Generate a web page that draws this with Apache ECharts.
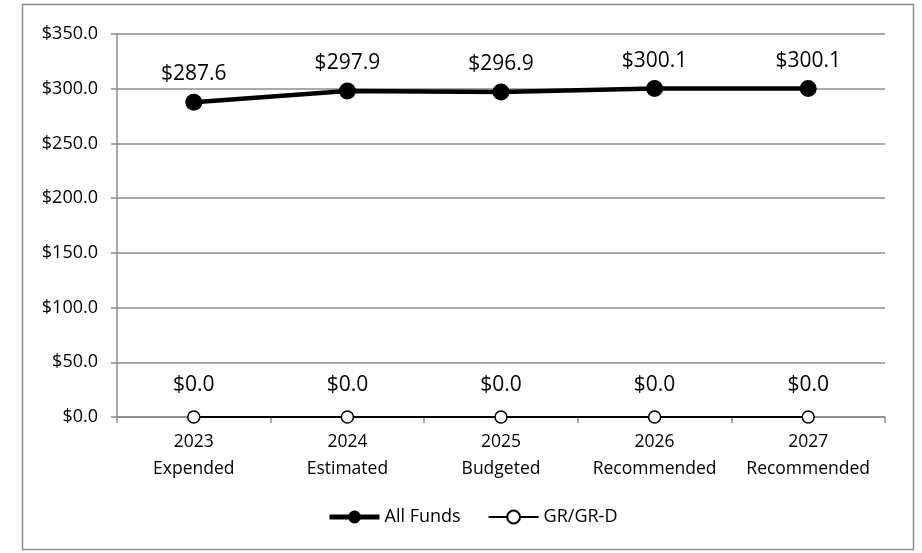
<!DOCTYPE html>
<html><head><meta charset="utf-8">
<script src="https://cdn.jsdelivr.net/npm/echarts@6/dist/echarts.min.js"></script>
<style>html,body{margin:0;padding:0;background:#fff}#c{width:922px;height:553px}</style>
</head><body><div id="c"></div>
<script>
const years = ['2023','2024','2025','2026','2027'];
const stages = ['Expended','Estimated','Budgeted','Recommended','Recommended'];
const allFunds = [287.6, 297.9, 296.9, 300.1, 300.1];
const grgrd = [0.0, 0.0, 0.0, 0.0, 0.0];
const yTicks = [0, 50, 100, 150, 200, 250, 300, 350];

const categories = years.map((y,i)=>y+'\n'+stages[i]);
const FONT = '"Open Sans", "Noto Sans", sans-serif';
const chart = echarts.init(document.getElementById('c'), null, {renderer:'canvas'});
chart.setOption({
  animation:false,
  graphic:[{type:'rect',shape:{x:22.5,y:4.5,width:891,height:545},style:{fill:'none',stroke:'#8c8c8c',lineWidth:1.5},silent:true}],
  grid:{left:117,right:37,top:34,bottom:136},
  xAxis:{type:'category',data:categories,boundaryGap:true,
    axisLine:{lineStyle:{color:'#8c8c8c',width:1.5}},
    axisTick:{show:true,length:6,interval:0,lineStyle:{color:'#8c8c8c',width:1.5}},
    axisLabel:{color:'#000',fontFamily:FONT,fontSize:17.5,lineHeight:27,margin:12,interval:0}},
  yAxis:{type:'value',min:yTicks[0],max:yTicks[yTicks.length-1],interval:50,
    axisLine:{show:true,lineStyle:{color:'#8c8c8c',width:1.5}},
    axisTick:{show:true,length:6,lineStyle:{color:'#8c8c8c',width:1.5}},
    splitLine:{lineStyle:{color:'#8c8c8c',width:1.5}},
    axisLabel:{color:'#000',fontFamily:FONT,fontSize:18,margin:19,formatter:v=>'$'+v.toFixed(1)}},
  legend:{bottom:22,left:322,itemGap:27,itemWidth:50,itemHeight:16,
    textStyle:{fontFamily:FONT,fontSize:18,color:'#000'},
    data:[{name:'All Funds',lineStyle:{width:5}},{name:'GR/GR-D',lineStyle:{width:2}}]},
  series:[
    {name:'All Funds',type:'line',data:allFunds,symbol:'circle',symbolSize:17,
      lineStyle:{color:'#000',width:4.5},itemStyle:{color:'#000'},
      label:{show:true,position:'top',distance:9,color:'#000',fontFamily:FONT,fontSize:21,formatter:p=>'$'+p.value.toFixed(1)},z:3},
    {name:'GR/GR-D',type:'line',data:grgrd,symbol:'circle',symbolSize:12,
      lineStyle:{color:'#000',width:2},itemStyle:{color:'#fff',borderColor:'#000',borderWidth:1.5},
      label:{show:true,position:'top',distance:15,color:'#000',fontFamily:FONT,fontSize:21,formatter:p=>'$'+p.value.toFixed(1)},z:4}
  ]
});
</script></body></html>
